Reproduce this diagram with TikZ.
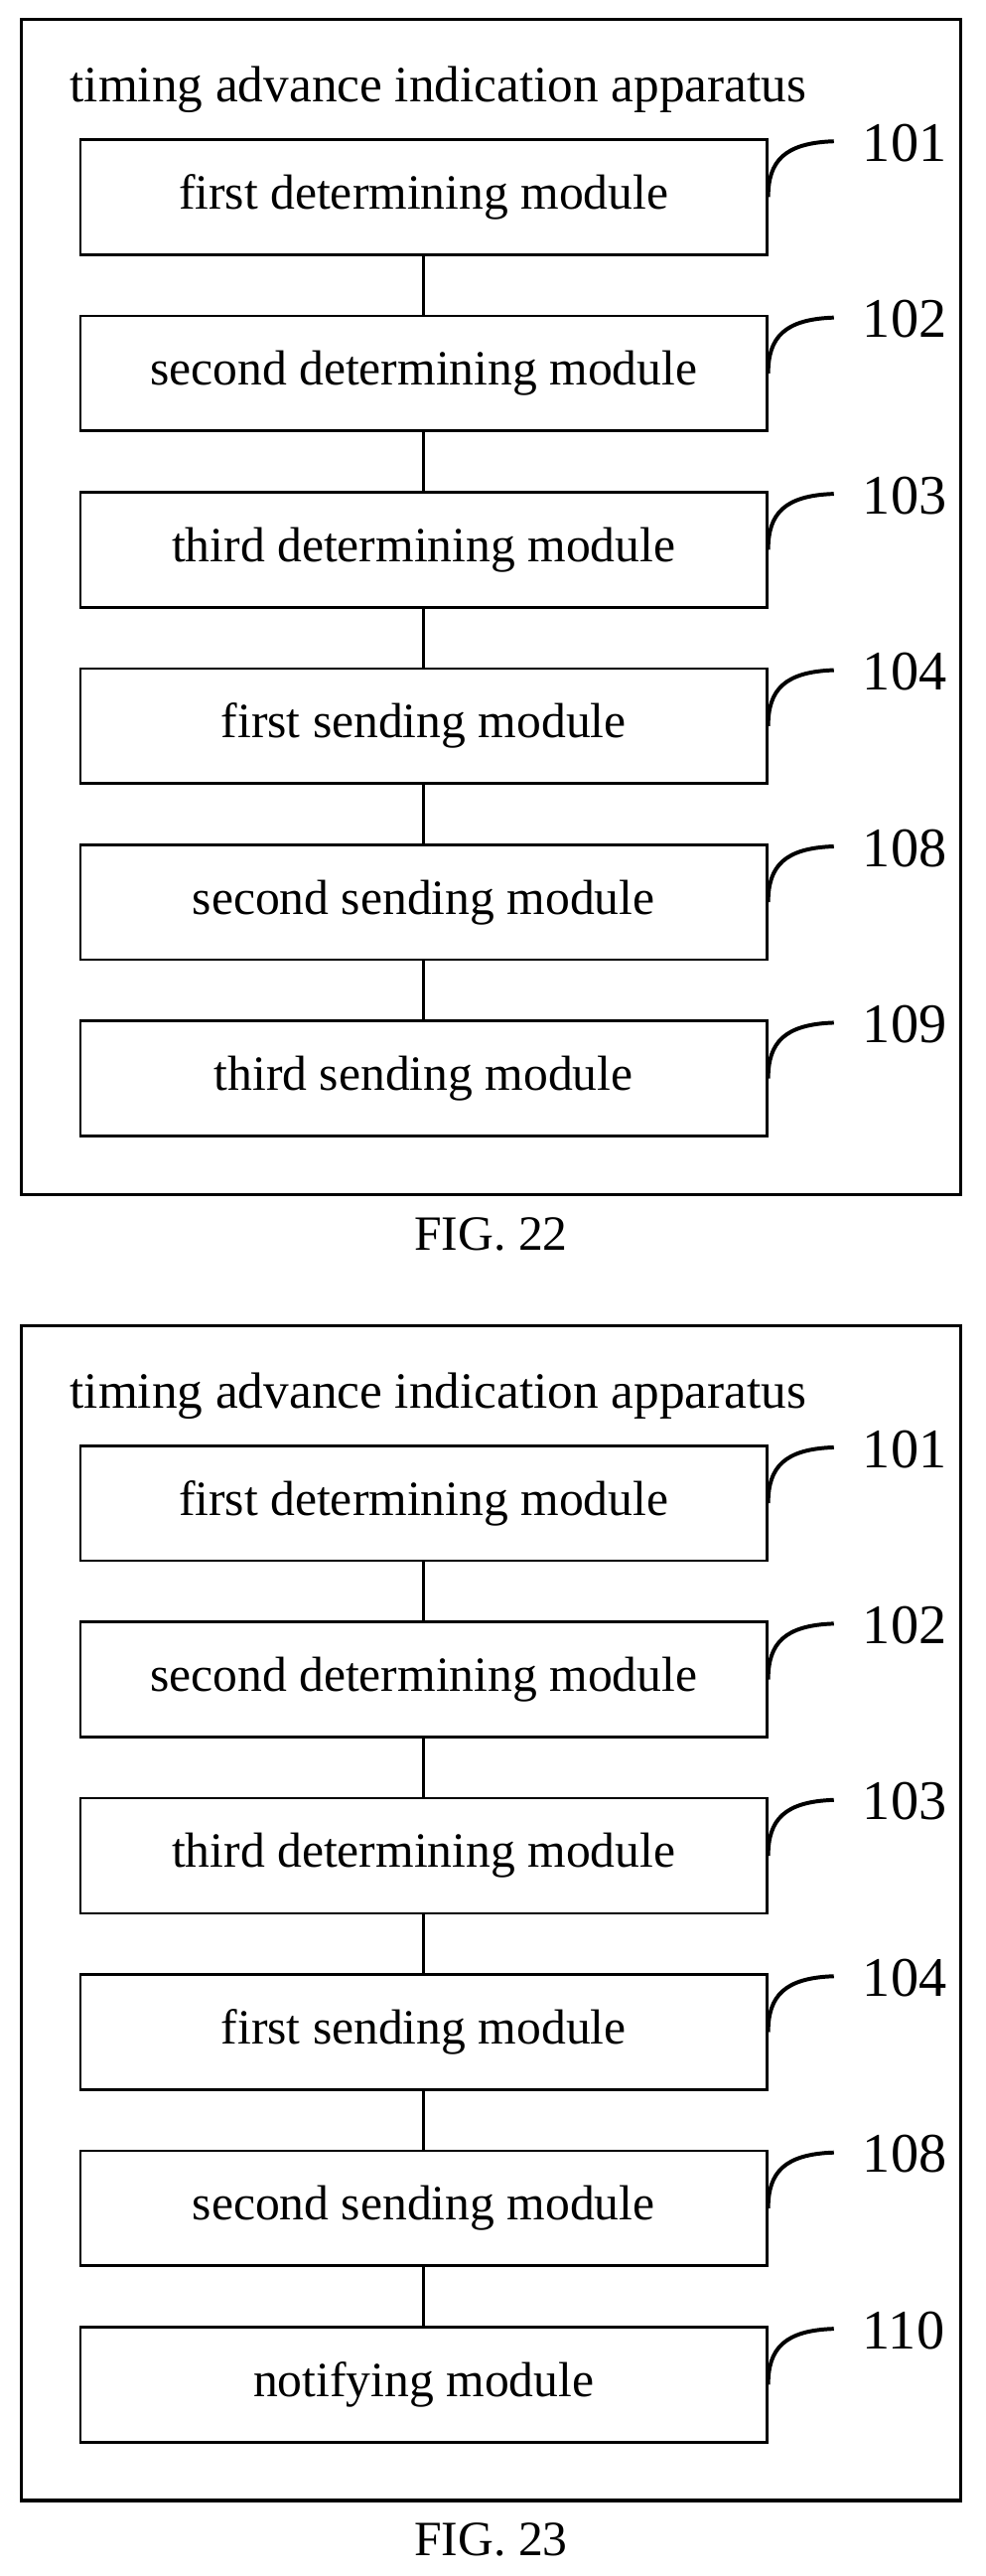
\documentclass[tikz,border=0pt]{standalone}
\usepackage{fontspec}
\setmainfont{Liberation Serif}
\usetikzlibrary{positioning}
\begin{document}
\begin{tikzpicture}[x=1pt,y=-1pt,semithick,
  module/.style={draw,line width=1.6pt,minimum width=418pt,minimum height=70pt,font=\fontsize{30}{32}\selectfont},
  frame/.style={draw,line width=2pt},
  lead/.style={line width=2.4pt}]
 \useasboundingbox (0,0) rectangle (600,1568);
 % two figures, same layout
 \foreach \fig/\dy/\last/\lastnum in {22/0/third sending module/109, 23/795/notifying module/110}{
  \begin{scope}[yshift=-\dy pt]
   \draw[frame] (13,12) rectangle (585,727);
   \node[anchor=base west,font=\fontsize{31}{32}\selectfont] (title\fig) at (39,62) {timing advance indication apparatus};
   \foreach \i/\txt/\num in {1/first determining module/101, 2/second determining module/102,
      3/third determining module/103, 4/first sending module/104, 5/second sending module/108, 6/\last/\lastnum}{
    \node[module] (m\fig\i) at (258,{120+107.3*(\i-1)}) {\txt};
    \node[font=\fontsize{34}{36}\selectfont,anchor=west] (n\fig\i) at ([xshift=54pt,yshift=33pt]m\fig\i.east) {\num};
    \draw[lead] (m\fig\i.east) .. controls ([yshift=22pt]m\fig\i.east) and ([xshift=10pt,yshift=33pt]m\fig\i.east) .. ([xshift=40pt,yshift=34pt]m\fig\i.east);
   }
   \foreach \i [evaluate=\i as \j using int(\i+1)] in {1,...,5}
    \draw[line width=1.6pt] (m\fig\i) -- (m\fig\j);
   \node[font=\fontsize{30}{32}\selectfont] (cap\fig) at (299,751) {FIG. \fig};
  \end{scope}
 }
\end{tikzpicture}
\end{document}
